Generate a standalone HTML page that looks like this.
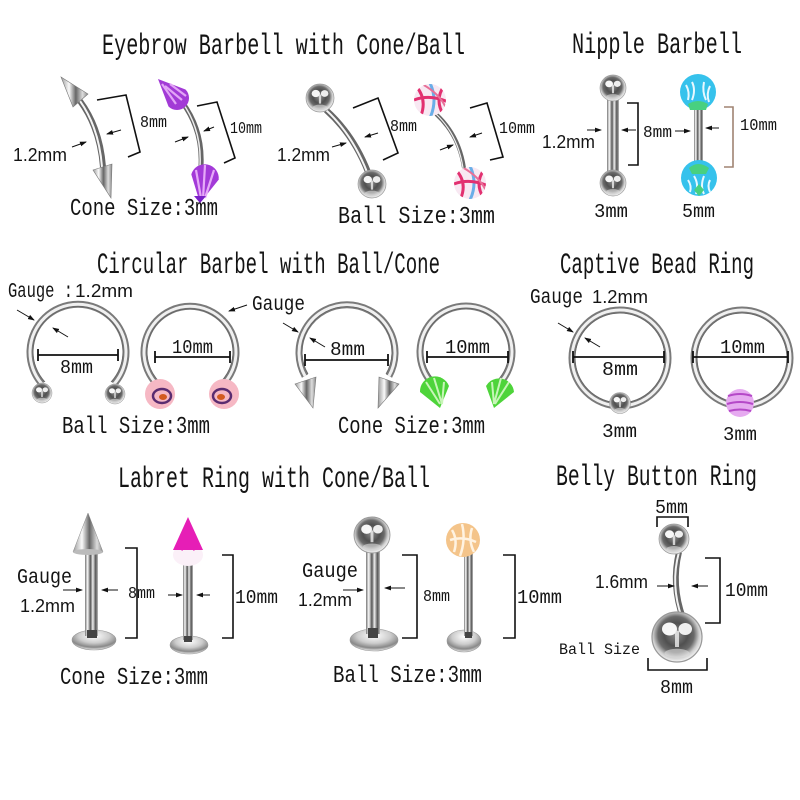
<!DOCTYPE html>
<html><head><meta charset="utf-8">
<style>
html,body{margin:0;padding:0;background:#fff}
svg{display:block}
.t{font-family:"Liberation Mono",monospace;fill:#141414}
.s{font-family:"Liberation Sans",sans-serif;fill:#141414}
.br{fill:none;stroke:#111;stroke-width:1.6}
.ar{stroke:#111;stroke-width:1;marker-end:url(#ah)}
.dm{stroke:#111;stroke-width:1.8;fill:none}
</style></head><body>
<svg width="800" height="800" viewBox="0 0 800 800" xmlns="http://www.w3.org/2000/svg">
<defs>
<radialGradient id="gb" cx="0.48" cy="0.45" r="0.58">
<stop offset="0" stop-color="#8c8c8c"/><stop offset="0.4" stop-color="#505050"/>
<stop offset="0.62" stop-color="#6a6a6a"/><stop offset="0.8" stop-color="#cfcfcf"/>
<stop offset="0.93" stop-color="#f0f0f0"/><stop offset="1" stop-color="#a8a8a8"/>
</radialGradient>
<linearGradient id="gv" x1="0" y1="0" x2="1" y2="0">
<stop offset="0" stop-color="#777"/><stop offset="0.2" stop-color="#fafafa"/>
<stop offset="0.42" stop-color="#555"/><stop offset="0.6" stop-color="#eee"/>
<stop offset="0.82" stop-color="#555"/><stop offset="1" stop-color="#bbb"/>
</linearGradient>
<linearGradient id="gc" x1="0" y1="0" x2="1" y2="0">
<stop offset="0" stop-color="#9a9a9a"/><stop offset="0.3" stop-color="#fafafa"/>
<stop offset="0.55" stop-color="#666"/><stop offset="0.8" stop-color="#ddd"/>
<stop offset="1" stop-color="#888"/>
</linearGradient>
<radialGradient id="gd" cx="0.5" cy="0.3" r="0.7">
<stop offset="0" stop-color="#fff"/><stop offset="0.5" stop-color="#ccc"/>
<stop offset="0.8" stop-color="#888"/><stop offset="1" stop-color="#eee"/>
</radialGradient>
<marker id="ah" markerWidth="7" markerHeight="6" refX="6" refY="3" orient="auto" markerUnits="userSpaceOnUse">
<path d="M0,0.6 L7,3 L0,5.4z" fill="#111"/>
</marker>
<g id="sb">
<circle r="10" fill="url(#gb)" stroke="#999" stroke-width="0.5"/>
<ellipse cx="-3" cy="-3.2" rx="3" ry="2.6" fill="#fff" opacity="0.95"/>
<ellipse cx="3.3" cy="-3.2" rx="2.7" ry="2.4" fill="#fff" opacity="0.9"/>
<rect x="-0.8" y="-2.5" width="1.6" height="6.5" fill="#eee" opacity="0.8"/>
<ellipse cx="0" cy="6.5" rx="5" ry="1.8" fill="#ddd" opacity="0.6"/>
</g>
<clipPath id="c4a"><circle cx="430" cy="100" r="16"/></clipPath>
<clipPath id="c4b"><circle cx="470" cy="183" r="16"/></clipPath>
</defs>

<!-- ===== TITLES ===== -->
<text class="t" x="102" y="54" font-size="30" textLength="363" lengthAdjust="spacingAndGlyphs">Eyebrow Barbell with Cone/Ball</text>
<text class="t" x="572" y="53" font-size="30" textLength="170" lengthAdjust="spacingAndGlyphs">Nipple Barbell</text>
<text class="t" x="97" y="273" font-size="30" textLength="343" lengthAdjust="spacingAndGlyphs">Circular Barbel with Ball/Cone</text>
<text class="t" x="560" y="273" font-size="30" textLength="194" lengthAdjust="spacingAndGlyphs">Captive Bead Ring</text>
<text class="t" x="118" y="487" font-size="30" textLength="312" lengthAdjust="spacingAndGlyphs">Labret Ring with Cone/Ball</text>
<text class="t" x="556" y="485" font-size="30" textLength="201" lengthAdjust="spacingAndGlyphs">Belly Button Ring</text>

<!-- ===== EYEBROW 1 (steel cones) ===== -->
<path d="M80,101 Q100,128 103,167" stroke="#666" stroke-width="6" fill="none"/>
<path d="M80,101 Q99,128 102,167" stroke="#f4f4f4" stroke-width="2" fill="none"/>
<polygon points="61,77 88,94 73,107" fill="url(#gc)" stroke="#777" stroke-width="0.6"/>
<polygon points="111,198 112,164 93,170" fill="url(#gc)" stroke="#777" stroke-width="0.6"/>
<polyline class="br" points="97,100 126,95 140,152 128,157"/>
<line class="ar" x1="72" y1="147" x2="86" y2="142"/>
<line class="ar" x1="121" y1="130" x2="107" y2="134"/>
<text class="s" x="13" y="161" font-size="18" textLength="54" lengthAdjust="spacingAndGlyphs">1.2mm</text>
<text class="t" x="140" y="127" font-size="17" textLength="27" lengthAdjust="spacingAndGlyphs">8mm</text>
<text class="t" x="70" y="215" font-size="24" textLength="148" lengthAdjust="spacingAndGlyphs">Cone Size:3mm</text>

<!-- ===== EYEBROW 2 (purple cones) ===== -->
<path d="M182,102 Q203,130 201,166" stroke="#666" stroke-width="5" fill="none"/>
<path d="M182,102 Q202,130 200,166" stroke="#eee" stroke-width="1.5" fill="none"/>
<path d="M158,79 L185.5,89.5 A12,12 0 0,1 168.5,106.5 Z" fill="#a23ad6"/>
<path d="M165,86 L182,100 M162,84 L176,104 M170,84 L186,96" stroke="#e2a4f6" stroke-width="2.2" fill="none"/>
<path d="M200,203 L191.3,174.4 A14,14 0 0,1 218.7,179.6 Z" fill="#a33ad8"/>
<path d="M196,170 L201,198 M205,165 L203,199 M214,170 L205,198" stroke="#e6aaf8" stroke-width="2.2" fill="none"/>
<path d="M194,196 L200,203 L206,196" fill="#7a20c8"/>
<polyline class="br" points="197,106 217,102 235,158 224,163"/>
<line class="ar" x1="175" y1="142" x2="188" y2="137"/>
<line class="ar" x1="214" y1="127" x2="204" y2="131"/>
<text class="t" x="230" y="133" font-size="17" textLength="32" lengthAdjust="spacingAndGlyphs">10mm</text>

<!-- ===== EYEBROW 3 (steel balls) ===== -->
<path d="M326,110 Q353,134 368,172" stroke="#666" stroke-width="6" fill="none"/>
<path d="M326,110 Q352,134 367,172" stroke="#f4f4f4" stroke-width="2" fill="none"/>
<use href="#sb" transform="translate(320,98) scale(1.4)"/>
<use href="#sb" transform="translate(372,184) scale(1.4)"/>
<polyline class="br" points="353,108 378,98 398,153 383,160"/>
<line class="ar" x1="332" y1="147" x2="346" y2="143"/>
<line class="ar" x1="378" y1="133" x2="365" y2="137"/>
<text class="s" x="277" y="161" font-size="18" textLength="53" lengthAdjust="spacingAndGlyphs">1.2mm</text>
<text class="t" x="390" y="131" font-size="17" textLength="27" lengthAdjust="spacingAndGlyphs">8mm</text>
<text class="t" x="338" y="223" font-size="24" textLength="157" lengthAdjust="spacingAndGlyphs">Ball Size:3mm</text>

<!-- ===== EYEBROW 4 (pink striped balls) ===== -->
<path d="M436,114 Q459,135 464,168" stroke="#666" stroke-width="4" fill="none"/>
<path d="M436,114 Q458,135 463,168" stroke="#eee" stroke-width="1.2" fill="none"/>
<circle cx="430" cy="100" r="16" fill="#f8e8f2"/>
<g clip-path="url(#c4a)" fill="none" stroke-width="3">
<path d="M416,86 Q428,100 420,118" stroke="#e23070"/>
<path d="M430,83 Q438,100 430,118" stroke="#6aaee8"/>
<path d="M444,86 Q434,100 444,116" stroke="#e23070"/>
<path d="M414,100 Q430,94 448,102" stroke="#e23070"/>
<path d="M422,84 Q440,94 446,108" stroke="#e87098" stroke-width="2"/>
</g>
<circle cx="470" cy="183" r="16" fill="#f8e8f2"/>
<g clip-path="url(#c4b)" fill="none" stroke-width="3">
<path d="M456,170 Q468,183 460,200" stroke="#e23070"/>
<path d="M470,166 Q478,183 470,200" stroke="#6aaee8"/>
<path d="M484,170 Q474,183 484,199" stroke="#e23070"/>
<path d="M454,184 Q470,178 488,186" stroke="#e23070"/>
<path d="M462,167 Q480,177 486,191" stroke="#e87098" stroke-width="2"/>
</g>
<polyline class="br" points="470,108 487,103 503,157 490,160"/>
<line class="ar" x1="440" y1="150" x2="453" y2="145"/>
<line class="ar" x1="482" y1="133" x2="470" y2="137"/>
<text class="t" x="499" y="133" font-size="17" textLength="36" lengthAdjust="spacingAndGlyphs">10mm</text>

<!-- ===== NIPPLE BARBELL ===== -->
<rect x="607" y="100" width="12" height="72" fill="url(#gv)"/>
<use href="#sb" transform="translate(613,88) scale(1.3)"/>
<use href="#sb" transform="translate(613,183) scale(1.3)"/>
<polyline class="br" points="627,103 638,103 638,165 628,165"/>
<line class="ar" x1="587" y1="130" x2="601" y2="130"/>
<line class="ar" x1="636" y1="130" x2="622" y2="130"/>
<line class="ar" x1="675" y1="131" x2="690" y2="131"/>
<line class="ar" x1="719" y1="128" x2="706" y2="128"/>
<text class="s" x="542" y="148" font-size="18" textLength="53" lengthAdjust="spacingAndGlyphs">1.2mm</text>
<text class="t" x="643" y="137" font-size="17" textLength="29" lengthAdjust="spacingAndGlyphs">8mm</text>
<rect x="694" y="104" width="9" height="66" fill="url(#gv)"/>
<circle cx="698" cy="92" r="18" fill="#36c2ec"/>
<path d="M686,85 Q690,92 688,100 M692,82 Q696,90 692,100 M704,82 Q702,92 706,100 M710,86 Q706,94 709,102" stroke="#e8f8ff" stroke-width="2" fill="none"/>
<path d="M688,104 Q698,98 708,104 L706,110 L690,110 Z" fill="#48d080"/>
<circle cx="699" cy="178" r="18" fill="#36c2ec"/>
<path d="M689,168 Q698,160 709,168 L706,174 L692,174 Z" fill="#48d080"/>
<path d="M688,180 Q692,186 690,192 M694,176 Q699,184 696,194 M704,176 Q700,186 704,194 M710,180 Q707,186 710,192" stroke="#e8f8ff" stroke-width="2" fill="none"/>
<path d="M694,190 L699,184 L704,190 L699,196 Z" fill="#48d080"/>
<polyline points="724,107 733,107 733,167 724,167" fill="none" stroke="#a08472" stroke-width="1.6"/>
<text class="t" x="740" y="130" font-size="17" textLength="37" lengthAdjust="spacingAndGlyphs">10mm</text>
<text class="t" x="594" y="217" font-size="19" textLength="34" lengthAdjust="spacingAndGlyphs">3mm</text>
<text class="t" x="682" y="217" font-size="19" textLength="33" lengthAdjust="spacingAndGlyphs">5mm</text>

<!-- ===== CIRCULAR 1 ===== -->
<path d="M42,384 A48,48 0 1,1 114,384" stroke="#7a7a7a" stroke-width="7" fill="none"/>
<path d="M42,384 A48,48 0 1,1 114,384" stroke="#f0f0f0" stroke-width="3" fill="none"/>
<path d="M45,382 A45,45 0 1,1 111,382" stroke="#666" stroke-width="0.8" fill="none"/>
<use href="#sb" transform="translate(42,393)"/>
<use href="#sb" transform="translate(115,394)"/>
<line class="dm" x1="38" y1="355" x2="118" y2="355"/>
<line class="dm" x1="38" y1="349" x2="38" y2="361"/>
<line class="dm" x1="118" y1="349" x2="118" y2="361"/>
<text class="t" x="60" y="373" font-size="19" textLength="33" lengthAdjust="spacingAndGlyphs">8mm</text>
<line class="ar" x1="17" y1="310" x2="34" y2="320"/>
<line class="ar" x1="68" y1="337" x2="53" y2="328"/>
<text class="t" x="8" y="297" font-size="21" textLength="65" lengthAdjust="spacingAndGlyphs">Gauge :</text>
<text class="s" x="75" y="297" font-size="18" textLength="58" lengthAdjust="spacingAndGlyphs">1.2mm</text>
<text class="t" x="62" y="433" font-size="24" textLength="148" lengthAdjust="spacingAndGlyphs">Ball Size:3mm</text>

<!-- ===== CIRCULAR 2 ===== -->
<path d="M161,388 A46,46 0 1,1 219,388" stroke="#7a7a7a" stroke-width="7" fill="none"/>
<path d="M161,388 A46,46 0 1,1 219,388" stroke="#f0f0f0" stroke-width="3" fill="none"/>
<path d="M164,386 A43,43 0 1,1 216,386" stroke="#666" stroke-width="0.8" fill="none"/>
<g>
<circle cx="160" cy="394" r="15" fill="#f6b8c4"/>
<ellipse cx="162" cy="396" rx="9" ry="7" fill="none" stroke="#5a2c70" stroke-width="2.5"/>
<ellipse cx="163" cy="397" rx="4" ry="3" fill="#d25a20"/>
<circle cx="224" cy="394" r="15" fill="#f6b8c4"/>
<ellipse cx="222" cy="396" rx="9" ry="7" fill="none" stroke="#5a2c70" stroke-width="2.5"/>
<ellipse cx="221" cy="397" rx="4" ry="3" fill="#d25a20"/>
</g>
<line class="dm" x1="155" y1="357" x2="230" y2="357"/>
<line class="dm" x1="155" y1="351" x2="155" y2="363"/>
<line class="dm" x1="230" y1="351" x2="230" y2="363"/>
<text class="t" x="172" y="353" font-size="19" textLength="41" lengthAdjust="spacingAndGlyphs">10mm</text>
<text class="t" x="252" y="310" font-size="21" textLength="53" lengthAdjust="spacingAndGlyphs">Gauge</text>
<line class="ar" x1="247" y1="305" x2="229" y2="311"/>

<!-- ===== CIRCULAR 3 (cones) ===== -->
<path d="M305,376 A48,48 0 1,1 389,376" stroke="#7a7a7a" stroke-width="7" fill="none"/>
<path d="M305,376 A48,48 0 1,1 389,376" stroke="#f0f0f0" stroke-width="3" fill="none"/>
<path d="M308,374 A45,45 0 1,1 386,374" stroke="#666" stroke-width="0.8" fill="none"/>
<polygon points="313,408 316,377 295,384" fill="url(#gc)" stroke="#777" stroke-width="0.6"/>
<polygon points="378,408 399,384 379,377" fill="url(#gc)" stroke="#777" stroke-width="0.6"/>
<line class="dm" x1="305" y1="360" x2="388" y2="360"/>
<line class="dm" x1="305" y1="354" x2="305" y2="366"/>
<line class="dm" x1="388" y1="354" x2="388" y2="366"/>
<text class="t" x="330" y="355" font-size="19" textLength="35" lengthAdjust="spacingAndGlyphs">8mm</text>
<line class="ar" x1="283" y1="323" x2="298" y2="332"/>
<line class="ar" x1="325" y1="347" x2="310" y2="338"/>
<text class="t" x="338" y="433" font-size="24" textLength="147" lengthAdjust="spacingAndGlyphs">Cone Size:3mm</text>

<!-- ===== CIRCULAR 4 (green cones) ===== -->
<path d="M432,383 A46,46 0 1,1 500,383" stroke="#7a7a7a" stroke-width="7" fill="none"/>
<path d="M432,383 A46,46 0 1,1 500,383" stroke="#f0f0f0" stroke-width="3" fill="none"/>
<path d="M435,381 A43,43 0 1,1 497,381" stroke="#666" stroke-width="0.8" fill="none"/>
<path d="M440,408 L420,392 A15,15 0 0,1 449,386 Z" fill="#4ed43a"/>
<path d="M426,382 L440,404 M434,378 L442,404 M444,382 L442,404" stroke="#c8f5b8" stroke-width="2" fill="none"/>
<path d="M494,408 L486,386 A15,15 0 0,1 514,392 Z" fill="#4ed43a"/>
<path d="M492,382 L494,404 M501,378 L494,404 M509,382 L495,404" stroke="#c8f5b8" stroke-width="2" fill="none"/>
<line class="dm" x1="427" y1="357" x2="508" y2="357"/>
<line class="dm" x1="427" y1="351" x2="427" y2="363"/>
<line class="dm" x1="508" y1="351" x2="508" y2="363"/>
<text class="t" x="445" y="353" font-size="19" textLength="45" lengthAdjust="spacingAndGlyphs">10mm</text>

<!-- ===== CAPTIVE 1 ===== -->
<circle cx="620" cy="358" r="48" stroke="#7a7a7a" stroke-width="7" fill="none"/>
<circle cx="620" cy="358" r="48" stroke="#f0f0f0" stroke-width="3" fill="none"/>
<circle cx="620" cy="358" r="45" stroke="#666" stroke-width="0.8" fill="none"/>
<use href="#sb" transform="translate(620,403) scale(1.05)"/>
<line class="dm" x1="573" y1="357" x2="664" y2="357"/>
<line class="dm" x1="573" y1="351" x2="573" y2="363"/>
<line class="dm" x1="664" y1="351" x2="664" y2="363"/>
<text class="t" x="602" y="375" font-size="19" textLength="36" lengthAdjust="spacingAndGlyphs">8mm</text>
<line class="ar" x1="558" y1="323" x2="573" y2="332"/>
<line class="ar" x1="600" y1="347" x2="585" y2="338"/>
<text class="t" x="530" y="303" font-size="21" textLength="53" lengthAdjust="spacingAndGlyphs">Gauge</text>
<text class="s" x="592" y="303" font-size="18" textLength="56" lengthAdjust="spacingAndGlyphs">1.2mm</text>
<text class="t" x="602" y="437" font-size="19" textLength="35" lengthAdjust="spacingAndGlyphs">3mm</text>

<!-- ===== CAPTIVE 2 ===== -->
<circle cx="742" cy="358" r="48" stroke="#7a7a7a" stroke-width="7" fill="none"/>
<circle cx="742" cy="358" r="48" stroke="#f0f0f0" stroke-width="3" fill="none"/>
<circle cx="742" cy="358" r="45" stroke="#666" stroke-width="0.8" fill="none"/>
<circle cx="740" cy="403" r="14" fill="#e6aaf0"/>
<path d="M728,396 Q740,392 752,396 M727,404 Q740,400 753,404 M729,411 Q740,408 751,411" stroke="#b548c8" stroke-width="2" fill="none"/>
<line class="dm" x1="693" y1="357" x2="788" y2="357"/>
<line class="dm" x1="693" y1="351" x2="693" y2="363"/>
<line class="dm" x1="788" y1="351" x2="788" y2="363"/>
<text class="t" x="720" y="353" font-size="19" textLength="45" lengthAdjust="spacingAndGlyphs">10mm</text>
<text class="t" x="723" y="440" font-size="19" textLength="34" lengthAdjust="spacingAndGlyphs">3mm</text>

<!-- ===== LABRET 1 ===== -->
<ellipse cx="94" cy="640" rx="22" ry="10" fill="url(#gd)" stroke="#999" stroke-width="0.6"/>
<rect x="85" y="550" width="13" height="86" fill="url(#gv)"/>
<rect x="87" y="630" width="10" height="8" fill="#444"/>
<polygon points="88,513 103,552 73,552" fill="url(#gc)" stroke="#888" stroke-width="0.5"/>
<ellipse cx="88" cy="552" rx="15" ry="3" fill="#bbb"/>
<polyline class="br" points="125,548 137,548 137,638 125,638"/>
<line class="ar" x1="63" y1="590" x2="82" y2="590"/>
<line class="ar" x1="118" y1="590" x2="102" y2="590"/>
<text class="t" x="17" y="583" font-size="21" textLength="55" lengthAdjust="spacingAndGlyphs">Gauge</text>
<text class="s" x="20" y="612" font-size="18" textLength="55" lengthAdjust="spacingAndGlyphs">1.2mm</text>
<text class="t" x="128" y="598" font-size="17" textLength="27" lengthAdjust="spacingAndGlyphs">8mm</text>
<text class="t" x="60" y="684" font-size="24" textLength="148" lengthAdjust="spacingAndGlyphs">Cone Size:3mm</text>

<!-- ===== LABRET 2 ===== -->
<ellipse cx="189" cy="645" rx="19" ry="9" fill="url(#gd)" stroke="#999" stroke-width="0.6"/>
<rect x="183" y="560" width="10" height="80" fill="url(#gv)"/>
<rect x="184" y="636" width="8" height="6" fill="#444"/>
<ellipse cx="188" cy="555" rx="15" ry="11" fill="#fbf0f8"/>
<polygon points="188,517 203,550 173,550" fill="#e61eb6"/>
<path d="M173,550 L178,545 L182,551 L188,545 L194,551 L198,545 L203,550 Z" fill="#e61eb6"/>
<line class="ar" x1="168" y1="595" x2="182" y2="595"/>
<line class="ar" x1="210" y1="595" x2="197" y2="595"/>
<polyline class="br" points="222,555 233,555 233,638 222,638"/>
<text class="t" x="235" y="603" font-size="19" textLength="43" lengthAdjust="spacingAndGlyphs">10mm</text>

<!-- ===== LABRET 3 ===== -->
<ellipse cx="374" cy="640" rx="24" ry="11" fill="url(#gd)" stroke="#999" stroke-width="0.6"/>
<rect x="366" y="550" width="14" height="84" fill="url(#gv)"/>
<rect x="368" y="628" width="10" height="10" fill="#444"/>
<use href="#sb" transform="translate(372,535) scale(1.8)"/>
<polyline class="br" points="402,555 417,555 417,638 402,638"/>
<line class="ar" x1="343" y1="590" x2="363" y2="590"/>
<line class="ar" x1="405" y1="588" x2="385" y2="588"/>
<text class="t" x="302" y="577" font-size="21" textLength="56" lengthAdjust="spacingAndGlyphs">Gauge</text>
<text class="s" x="298" y="606" font-size="18" textLength="54" lengthAdjust="spacingAndGlyphs">1.2mm</text>
<text class="t" x="423" y="601" font-size="17" textLength="27" lengthAdjust="spacingAndGlyphs">8mm</text>
<text class="t" x="333" y="682" font-size="24" textLength="149" lengthAdjust="spacingAndGlyphs">Ball Size:3mm</text>

<!-- ===== LABRET 4 ===== -->
<ellipse cx="464" cy="641" rx="17" ry="11" fill="url(#gd)" stroke="#999" stroke-width="0.6"/>
<rect x="464" y="552" width="9" height="84" fill="url(#gv)"/>
<rect x="465" y="632" width="7" height="6" fill="#444"/>
<circle cx="463" cy="540" r="17" fill="#f4c48a"/>
<path d="M452,530 Q458,540 454,552 M462,524 Q466,540 460,556 M472,528 Q468,540 474,552 M450,540 Q463,536 476,542" stroke="#fff3e2" stroke-width="2.5" fill="none"/>
<polyline class="br" points="503,555 515,555 515,638 503,638"/>
<text class="t" x="517" y="603" font-size="19" textLength="45" lengthAdjust="spacingAndGlyphs">10mm</text>

<!-- ===== BELLY BUTTON ===== -->
<polyline class="br" points="657,527 657,517 688,517 688,527"/>
<text class="t" x="655" y="513" font-size="19" textLength="33" lengthAdjust="spacingAndGlyphs">5mm</text>
<path d="M679,552 Q671,585 683,618" stroke="#666" stroke-width="6" fill="none"/>
<path d="M679,552 Q670,585 682,618" stroke="#f2f2f2" stroke-width="2" fill="none"/>
<use href="#sb" transform="translate(674,539) scale(1.5)"/>
<use href="#sb" transform="translate(677,637) scale(2.5)"/>
<polyline class="br" points="705,558 720,558 720,623 705,623"/>
<line class="ar" x1="657" y1="586" x2="674" y2="586"/>
<line class="ar" x1="708" y1="586" x2="692" y2="586"/>
<text class="s" x="595" y="588" font-size="18" textLength="53" lengthAdjust="spacingAndGlyphs">1.6mm</text>
<text class="t" x="725" y="596" font-size="19" textLength="43" lengthAdjust="spacingAndGlyphs">10mm</text>
<text class="t" x="559" y="654" font-size="16" textLength="81" lengthAdjust="spacingAndGlyphs">Ball Size</text>
<polyline class="br" points="648,658 648,670 707,670 707,658"/>
<text class="t" x="660" y="693" font-size="19" textLength="33" lengthAdjust="spacingAndGlyphs">8mm</text>
</svg>
</body></html>
